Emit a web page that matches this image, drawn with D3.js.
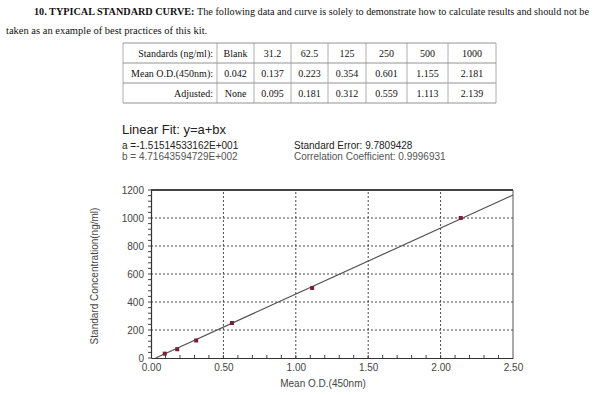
<!DOCTYPE html>
<html>
<head>
<meta charset="utf-8">
<script src="https://cdn.jsdelivr.net/npm/d3@7"></script>
<style>
body { margin: 0; background: #fff; }
svg { display: block; }
</style>
</head>
<body>
<div id="content"></div>
<script>
var width = 600;
var height = 395;

// table data
var rowLabels = ["Standards (ng/ml):", "Mean O.D.(450nm):", "Adjusted:"];
var standards = ["Blank", "31.2", "62.5", "125", "250", "500", "1000"];
var meanOD = ["0.042", "0.137", "0.223", "0.354", "0.601", "1.155", "2.181"];
var adjusted = ["None", "0.095", "0.181", "0.312", "0.559", "1.113", "2.139"];

// curve data
var pointOD = [0.095, 0.181, 0.312, 0.559, 1.113, 2.139];
var pointConc = [31.2, 62.5, 125, 250, 500, 1000];
var fitA = -15.1514533162;
var fitB = 471.643594729;
var xTicks = [0, 0.5, 1.0, 1.5, 2.0, 2.5];
var yTicks = [0, 200, 400, 600, 800, 1000, 1200];

var svg = d3.select("#content").append("svg").attr("width", width).attr("height", height);

// heading
var head = svg.append("text")
    .attr("x", 34).attr("y", 15)
    .attr("textLength", 555).attr("lengthAdjust", "spacingAndGlyphs")
    .style("font-family", "Liberation Serif, Times New Roman, serif")
    .style("font-size", "10.5px")
    .attr("fill", "#111");
head.append("tspan").style("font-weight", "bold").text("10. TYPICAL STANDARD CURVE: ");
head.append("tspan").text("The following data and curve is solely to demonstrate how to calculate results and should not be");

svg.append("text")
    .attr("x", 6).attr("y", 34)
    .style("font-family", "Liberation Serif, Times New Roman, serif")
    .style("font-size", "10.5px")
    .attr("fill", "#111")
    .text("taken as an example of best practices of this kit.");

// table
var colEdges = [123, 217, 254, 291, 328, 366, 407, 448, 496];
var rowTop = 43;
var rowH = 20;
var rows = [standards, meanOD, adjusted];
var table = svg.append("g")
    .style("font-family", "Liberation Serif, Times New Roman, serif")
    .style("font-size", "10px")
    .attr("fill", "#111");

d3.range(4).forEach(function (i) {
    table.append("line")
        .attr("x1", colEdges[0]).attr("x2", colEdges[8])
        .attr("y1", rowTop + i * rowH).attr("y2", rowTop + i * rowH)
        .attr("stroke", "#777").attr("stroke-width", 0.8);
});
colEdges.forEach(function (x) {
    table.append("line")
        .attr("x1", x).attr("x2", x)
        .attr("y1", rowTop).attr("y2", rowTop + 3 * rowH)
        .attr("stroke", "#999").attr("stroke-width", 0.8);
});
rows.forEach(function (r, i) {
    var y = rowTop + i * rowH + 14;
    table.append("text")
        .attr("x", colEdges[1] - 4).attr("y", y)
        .attr("text-anchor", "end")
        .text(rowLabels[i]);
    r.forEach(function (v, j) {
        table.append("text")
            .attr("x", (colEdges[j + 1] + colEdges[j + 2]) / 2).attr("y", y)
            .attr("text-anchor", "middle")
            .text(v);
    });
});

// fit info
var info = svg.append("g").style("font-family", "Liberation Sans, Arial, sans-serif");
info.append("text").attr("x", 122).attr("y", 134).style("font-size", "13px").attr("fill", "#222").text("Linear Fit: y=a+bx");
info.append("text").attr("x", 122).attr("y", 149).style("font-size", "10px").attr("fill", "#222").text("a =-1.51514533162E+001");
info.append("text").attr("x", 122).attr("y", 160).style("font-size", "10px").attr("fill", "#555").text("b = 4.71643594729E+002");
info.append("text").attr("x", 294).attr("y", 149).style("font-size", "10px").attr("fill", "#222").text("Standard Error: 9.7809428");
info.append("text").attr("x", 294).attr("y", 160).style("font-size", "10px").attr("fill", "#555").text("Correlation Coefficient: 0.9996931");

// chart
var x = d3.scaleLinear().domain([0, 2.5]).range([151, 513]);
var y = d3.scaleLinear().domain([0, 1200]).range([358, 190]);

var chart = svg.append("g");

// grid
chart.selectAll(".vgrid")
    .data(xTicks.slice(1, -1))
    .enter().append("line")
    .attr("x1", function (d) { return x(d); }).attr("x2", function (d) { return x(d); })
    .attr("y1", y(0)).attr("y2", y(1200))
    .attr("stroke", "#333").attr("stroke-width", 0.9).attr("stroke-dasharray", "2,2");
chart.selectAll(".hgrid")
    .data(yTicks.slice(1, -1))
    .enter().append("line")
    .attr("x1", x(0)).attr("x2", x(2.5))
    .attr("y1", function (d) { return y(d); }).attr("y2", function (d) { return y(d); })
    .attr("stroke", "#333").attr("stroke-width", 0.9).attr("stroke-dasharray", "2,2");

// frame
chart.append("line").attr("x1", x(0)).attr("x2", x(2.5)).attr("y1", y(1200)).attr("y2", y(1200))
    .attr("stroke", "#444").attr("stroke-width", 2);
chart.append("line").attr("x1", x(2.5)).attr("x2", x(2.5)).attr("y1", y(1200)).attr("y2", y(0))
    .attr("stroke", "#555").attr("stroke-width", 1);

// axes
var xAxis = d3.axisBottom(x).tickValues(xTicks).tickSize(0).tickPadding(6).tickFormat(d3.format(".2f"));
var gx = chart.append("g").attr("transform", "translate(0," + y(0) + ")").call(xAxis);
var yAxis = d3.axisLeft(y).tickValues(yTicks).tickSize(0).tickPadding(7).tickFormat(d3.format("d"));
var gy = chart.append("g").attr("transform", "translate(" + x(0) + ",0)").call(yAxis);
[gx, gy].forEach(function (g) {
    g.select(".domain").attr("stroke", "#333").attr("stroke-width", 1.2);
    g.selectAll("text").style("font-family", "Liberation Sans, Arial, sans-serif")
        .style("font-size", "10px").attr("fill", "#444");
});

// minor ticks
chart.selectAll(".xminor")
    .data(d3.range(1, 25))
    .enter().append("line")
    .attr("x1", function (d) { return x(d / 10); }).attr("x2", function (d) { return x(d / 10); })
    .attr("y1", y(0)).attr("y2", y(0) - 3)
    .attr("stroke", "#444").attr("stroke-width", 1);
chart.selectAll(".yminor")
    .data(d3.range(0, 31))
    .enter().append("line")
    .attr("x1", x(0) - 3).attr("x2", x(0))
    .attr("y1", function (d) { return y(d * 40); }).attr("y2", function (d) { return y(d * 40); })
    .attr("stroke", "#444").attr("stroke-width", 1);

// axis titles
svg.append("text")
    .attr("x", 323).attr("y", 387)
    .attr("text-anchor", "middle")
    .style("font-family", "Liberation Sans, Arial, sans-serif")
    .style("font-size", "10px").attr("fill", "#444")
    .text("Mean O.D.(450nm)");
svg.append("text")
    .attr("transform", "translate(98,276) rotate(-90)")
    .attr("text-anchor", "middle")
    .style("font-family", "Liberation Sans, Arial, sans-serif")
    .style("font-size", "10px").attr("fill", "#444")
    .text("Standard Concentration(ng/ml)");

// fit line
var xStart = -fitA / fitB;
var line = d3.line().x(function (d) { return x(d); }).y(function (d) { return y(fitA + fitB * d); });
chart.append("path")
    .datum([xStart, 2.5])
    .attr("d", line)
    .attr("fill", "none").attr("stroke", "#555").attr("stroke-width", 1.2);

// points
chart.selectAll(".pt")
    .data(pointOD)
    .enter().append("rect")
    .attr("x", function (d) { return x(d) - 2; })
    .attr("y", function (d, i) { return y(pointConc[i]) - 2; })
    .attr("width", 4).attr("height", 4)
    .attr("fill", "#7a1f35");
</script>
</body>
</html>
